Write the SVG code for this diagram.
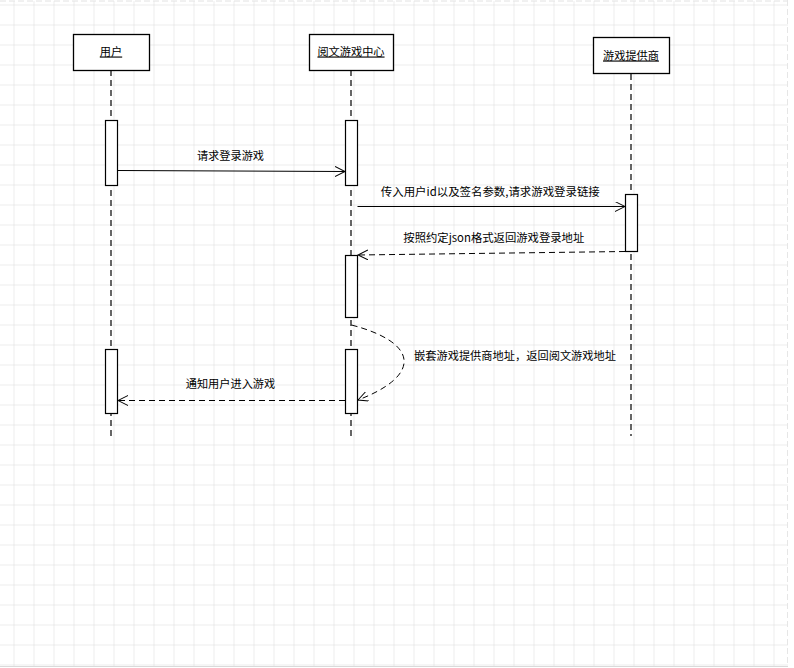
<svg xmlns="http://www.w3.org/2000/svg" width="794" height="668" viewBox="0 0 794 668">
<style>
.grid{stroke:#dadada;stroke-width:1;fill:none}
.box{fill:#fff;stroke:#000;stroke-width:1.3}
.act{fill:#fff;stroke:#000;stroke-width:1.2}
.life{stroke:#000;stroke-width:1.2;stroke-dasharray:6 4;fill:none}
.msg{stroke:#000;stroke-width:1;fill:none}
.ret{stroke:#000;stroke-width:1;fill:none;stroke-dasharray:6 4}
text{font-family:"Noto Sans CJK SC","Liberation Sans",sans-serif;font-size:11.2px;fill:#000}
.lbl{text-decoration:underline}
</style>
<defs>
<pattern id="gp" x="13.5" y="4.5" width="20" height="20" patternUnits="userSpaceOnUse">
<path d="M0 0H20M0 0V20" stroke="#dadada" stroke-width="1" fill="none"/>
</pattern>
<marker id="open" markerWidth="12" markerHeight="12" refX="10" refY="5" orient="auto" markerUnits="userSpaceOnUse">
<path d="M0,0 L10,5 L0,10" fill="none" stroke="#000" stroke-width="1"/>
</marker>
</defs>
<rect x="0" y="0" width="794" height="668" fill="#fff"/>
<rect x="0" y="1" width="788" height="665" fill="url(#gp)"/>
<line x1="0" y1="1" x2="788" y2="1" stroke="#e2e2e2" stroke-dasharray="6 3"/>
<line x1="787.5" y1="0" x2="787.5" y2="666" stroke="#e6e6e6" stroke-dasharray="6 3"/>
<line x1="0" y1="666.5" x2="788" y2="666.5" stroke="#dadada"/>

<g id="user">
<line class="life" x1="111" y1="70" x2="111" y2="436"/>
<rect class="box" x="73.5" y="34.5" width="76" height="36"/>
<text class="lbl" x="111" y="55.5" text-anchor="middle">用户</text>
<rect class="act" x="105.5" y="120.5" width="12" height="65"/>
<rect class="act" x="105.5" y="349.5" width="12" height="64"/>
</g>

<g id="center">
<line class="life" x1="351" y1="70" x2="351" y2="436"/>
<rect class="box" x="309.5" y="34.5" width="84" height="36"/>
<text class="lbl" x="351" y="55.5" text-anchor="middle">阅文游戏中心</text>
<rect class="act" x="345.5" y="120.5" width="12" height="65"/>
<rect class="act" x="345.5" y="255.5" width="12" height="62"/>
<rect class="act" x="345.5" y="349.5" width="12" height="64"/>
</g>

<g id="provider">
<line class="life" x1="631" y1="74" x2="631" y2="436"/>
<rect class="box" x="593.5" y="37.5" width="76" height="36"/>
<text class="lbl" x="631" y="59.5" text-anchor="middle">游戏提供商</text>
<rect class="act" x="625.5" y="194.5" width="12" height="57"/>
</g>

<g id="connectors">
<line class="msg" x1="117.5" y1="170.5" x2="345" y2="171.5" marker-end="url(#open)"/>
<text x="230.5" y="159.5" text-anchor="middle">请求登录游戏</text>
<line class="msg" x1="357.5" y1="206.5" x2="625" y2="206.5" marker-end="url(#open)"/>
<text x="490.3" y="195.5" text-anchor="middle" textLength="219" lengthAdjust="spacingAndGlyphs">传入用户id以及签名参数,请求游戏登录链接</text>
<line class="ret" x1="625" y1="251.5" x2="358" y2="255" marker-end="url(#open)"/>
<text x="493.8" y="242" text-anchor="middle" textLength="181" lengthAdjust="spacingAndGlyphs">按照约定json格式返回游戏登录地址</text>
<path class="ret" d="M351.5,325 C420,343 421,376 358,400" marker-end="url(#open)"/>
<text x="414" y="360" textLength="202" lengthAdjust="spacingAndGlyphs">嵌套游戏提供商地址，返回阅文游戏地址</text>
<line class="ret" x1="345" y1="400.5" x2="118" y2="400.5" marker-end="url(#open)"/>
<text x="230.5" y="387.5" text-anchor="middle">通知用户进入游戏</text>
</g>
</svg>
